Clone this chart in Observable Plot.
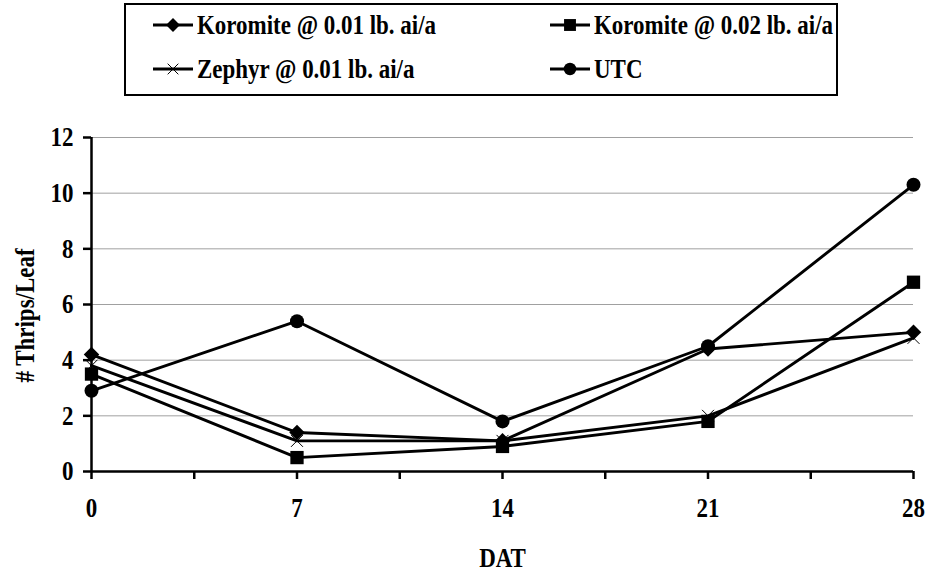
<!DOCTYPE html>
<html>
<head>
<meta charset="utf-8">
<script src="https://cdn.jsdelivr.net/npm/d3@7"></script>
<script src="https://cdn.jsdelivr.net/npm/@observablehq/plot@0.6"></script>
<style>
  body { margin: 0; background: #fff; }
  #wrap { position: relative; width: 930px; height: 574px; font-family: "Liberation Serif", "Times New Roman", serif; font-weight: bold; }
  #legend { position: absolute; left: 124px; top: 3px; width: 714px; height: 93px; box-sizing: border-box; border: 2px solid #000; background: #fff; }
  .sw { position: absolute; }
  .lt { position: absolute; font-size: 28px; line-height: 28px; white-space: nowrap; transform: scaleX(0.82); transform-origin: 0 0; color: #000; }
</style>
</head>
<body>
<div id="wrap"><div id="chart"></div><div id="legend"></div></div>
<script>
// ---- data ----
const days = [0, 7, 14, 21, 28];
const seriesNames = ["Koromite @ 0.01 lb. ai/a", "Koromite @ 0.02 lb. ai/a", "Zephyr @ 0.01 lb. ai/a", "UTC"];
const koromite001 = [4.2, 1.4, 1.1, 4.4, 5.0];
const koromite002 = [3.5, 0.5, 0.9, 1.8, 6.8];
const zephyr001 = [3.8, 1.1, 1.1, 2.0, 4.8];
const utc = [2.9, 5.4, 1.8, 4.5, 10.3];
const yTicks = [0, 2, 4, 6, 8, 10, 12];
const xLabelTicks = [0, 7, 14, 21, 28];
const xTickMarks = [0, 3.5, 7, 10.5, 14, 17.5, 21, 24.5, 28];
const yTitle = "# Thrips/Leaf";
const xTitle = "DAT";

const seriesValues = [koromite001, koromite002, zephyr001, utc];
const symbols = ["diamond2", "square", "times", "circle"];
const symbolR = [7, 7.5, 5.5, 7];

const data = seriesNames.flatMap((name, i) => days.map((d, j) => ({series: name, day: d, value: seriesValues[i][j]})));

const dotMarks = seriesNames.map((name, i) => {
  const filled = symbols[i] !== "times";
  return Plot.dot(data.filter(d => d.series === name), {
    x: "day", y: "value", symbol: () => symbols[i], r: symbolR[i],
    fill: filled ? "black" : "none", stroke: "black", strokeWidth: filled ? 0 : 1
  });
});

const FS = 28;
const plot = Plot.plot({
  width: 930, height: 574,
  marginLeft: 91, marginRight: 17, marginTop: 137, marginBottom: 103,
  style: {fontFamily: "'Liberation Serif', 'Times New Roman', serif", fontWeight: "bold", fontSize: FS + "px", color: "black", background: "white"},
  x: {domain: [0, 28]},
  y: {domain: [0, 12]},
  symbol: {type: "identity"},
  marks: [
    Plot.gridY(yTicks.filter(t => t > 0), {stroke: "#a0a0a0", strokeOpacity: 1, strokeWidth: 1}),
    Plot.axisY(yTicks, {tickSize: 8, tickPadding: 10, strokeWidth: 2.5, fontSize: FS, label: null}),
    Plot.axisX(xTickMarks, {tickSize: 8, tickPadding: 18, strokeWidth: 2.5, fontSize: FS, label: null,
      tickFormat: d => xLabelTicks.includes(d) ? String(d) : ""}),
    Plot.ruleY([0], {stroke: "black", strokeWidth: 2.5}),
    Plot.ruleX([0], {stroke: "black", strokeWidth: 2.5}),
    Plot.line(data, {x: "day", y: "value", z: "series", stroke: "black", strokeWidth: 2.9}),
    ...dotMarks,
    Plot.text([yTitle], {frameAnchor: "left", textAnchor: "middle", rotate: -90, dx: -77, dy: 11, lineAnchor: "top", fontSize: FS}),
    Plot.text([xTitle], {frameAnchor: "bottom", textAnchor: "middle", dy: 76, lineAnchor: "top", fontSize: FS})
  ]
});

// condense text horizontally (Times-like narrow look)
const sx = 0.82;
const isNum = v => v != null && /^-?[\d.]+$/.test(v.trim());
plot.querySelectorAll("text").forEach(t => {
  let tr = t.getAttribute("transform") || "";
  const ax = t.getAttribute("x"), ay = t.getAttribute("y");
  let tx = 0, ty = 0;
  if (isNum(ax)) { tx = +ax; t.removeAttribute("x"); }
  if (isNum(ay)) { ty = +ay; t.removeAttribute("y"); }
  t.setAttribute("transform", `${tr} translate(${tx},${ty}) scale(${sx},1)`);
});
document.getElementById("chart").appendChild(plot);

// ---- legend ----
const legend = document.getElementById("legend");
const boxLeft = 124 + 2, boxTop = 3 + 2;
const legendItems = [
  {col: 0, row: 0}, {col: 1, row: 0}, {col: 0, row: 1}, {col: 1, row: 1}
];
const colX = [153, 550];
const rowY = [25, 69];
legendItems.forEach((it, i) => {
  const lx = colX[it.col] - boxLeft, ly = rowY[it.row] - boxTop;
  const svg = d3.create("svg").attr("class", "sw").attr("width", 40).attr("height", 24)
    .style("left", lx + "px").style("top", (ly - 12) + "px");
  svg.append("line").attr("x1", 0).attr("x2", 40).attr("y1", 12).attr("y2", 12).attr("stroke", "black").attr("stroke-width", 2.9);
  const s = symbols[i];
  const symType = {diamond2: d3.symbolDiamond2, square: d3.symbolSquare, times: d3.symbolTimes, circle: d3.symbolCircle}[s];
  const size = Math.PI * symbolR[i] * symbolR[i] * 0.8;
  const p = svg.append("path").attr("d", d3.symbol(symType, size)()).attr("transform", "translate(20,12)");
  if (s === "times") p.attr("fill", "none").attr("stroke", "black").attr("stroke-width", 1);
  else p.attr("fill", "black");
  legend.appendChild(svg.node());
  const span = document.createElement("span");
  span.className = "lt";
  span.textContent = seriesNames[i];
  span.style.left = (lx + 44) + "px";
  span.style.top = (ly - 14) + "px";
  legend.appendChild(span);
});
</script>
</body>
</html>
